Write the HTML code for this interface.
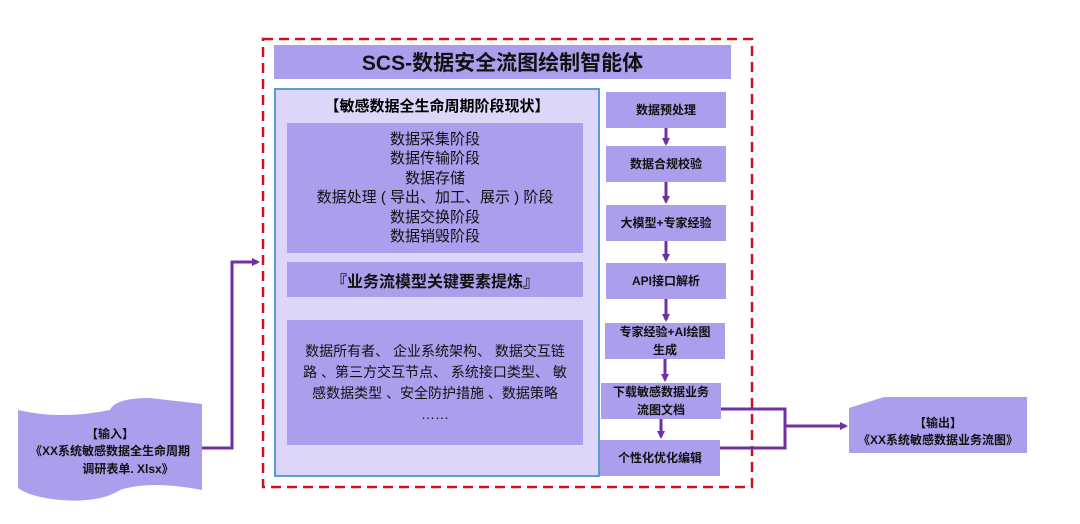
<!DOCTYPE html>
<html><head><meta charset="utf-8"><style>
body{margin:0;width:1080px;height:524px;background:#fff;position:relative;overflow:hidden;font-family:"Liberation Sans","Noto Sans CJK SC",sans-serif;}
.a{position:absolute;box-sizing:border-box;}
.p{background:#ab9eec;display:flex;align-items:center;justify-content:center;text-align:center;color:#111;}
.b{font-weight:bold;}
.rc{font-size:12px;font-weight:bold;line-height:18px;}
</style></head><body>
<div class="a p b" style="left:274px;top:45px;width:457px;height:34px;font-size:21px;">SCS-数据安全流图绘制智能体</div>
<div class="a" style="left:274px;top:88px;width:326px;height:389px;border:2.5px solid #5b9bd5;background:#dcd6f8;"></div>
<div class="a b" style="left:276px;top:95px;width:322px;text-align:center;font-size:15px;">【敏感数据全生命周期阶段现状】</div>
<div class="a p" style="left:287px;top:123px;width:296px;height:130px;font-size:15px;line-height:19.5px;">数据采集阶段<br>数据传输阶段<br>数据存储<br>数据处理 ( 导出、加工、展示 ) 阶段<br>数据交换阶段<br>数据销毁阶段</div>
<div class="a p b" style="left:287px;top:262px;width:296px;height:35px;font-size:16px;">『业务流模型关键要素提炼』</div>
<div class="a p" style="left:287px;top:320px;width:296px;height:125px;font-size:14px;line-height:21px;white-space:nowrap;">数据所有者、 企业系统架构、 数据交互链<br>路 、第三方交互节点、 系统接口类型、 敏<br>感数据类型 、安全防护措施 、数据策略<br>……</div>

<div class="a p rc" style="left:606px;top:92px;width:120px;height:36px;">数据预处理</div>
<div class="a p rc" style="left:606px;top:146px;width:120px;height:36px;">数据合规校验</div>
<div class="a p rc" style="left:606px;top:205px;width:120px;height:36px;">大模型+专家经验</div>
<div class="a p rc" style="left:606px;top:263px;width:120px;height:36px;">API接口解析</div>
<div class="a p rc" style="left:605px;top:323px;width:120px;height:36px;">专家经验+AI绘图<br>生成</div>
<div class="a p rc" style="left:601px;top:383px;width:120px;height:36px;">下载敏感数据业务<br>流图文档</div>
<div class="a p rc" style="left:600px;top:440px;width:120px;height:36px;">个性化优化编辑</div>

<svg class="a" style="left:0;top:0" width="1080" height="524">
<defs><marker id="m" markerWidth="8" markerHeight="8" refX="6" refY="4" orient="auto" markerUnits="userSpaceOnUse"><path d="M0,0 L8,4 L0,8z" fill="#7030a0"/></marker></defs>
<rect x="263" y="39" width="489" height="448" fill="none" stroke="#d0101a" stroke-width="2.5" stroke-dasharray="10,6"/>
<g stroke="#7030a0" stroke-width="3" fill="none">
<line x1="666" y1="128" x2="666" y2="144" marker-end="url(#m)"/>
<line x1="666" y1="182" x2="666" y2="202" marker-end="url(#m)"/>
<line x1="666" y1="241" x2="666" y2="260" marker-end="url(#m)"/>
<line x1="666" y1="299" x2="666" y2="320" marker-end="url(#m)"/>
<line x1="665" y1="359" x2="665" y2="380" marker-end="url(#m)"/>
<line x1="661" y1="419" x2="661" y2="437" marker-end="url(#m)"/>
<polyline points="202,448 232,448 232,262 258,262" marker-end="url(#m)"/>
<polyline points="721,409 785,409 785,448 720,448"/>
<line x1="785" y1="426" x2="846" y2="426" marker-end="url(#m)"/>
</g>
<path d="M18,410 Q60,420 110,410 Q115,398 150,398 L202,404 L202,490 Q150,480 120,490 Q100,503 60,500 Q30,497 18,488 Z" fill="#ab9eec"/>
<path d="M849,408 L884,397 L1027,397 L1027,453 L849,453 Z" fill="#ab9eec"/>
<text x="110" y="438" text-anchor="middle" font-size="12" font-weight="bold" fill="#111">【输入】</text>
<text x="110" y="455" text-anchor="middle" font-size="12" font-weight="bold" fill="#111">《XX系统敏感数据全生命周期</text>
<text x="128" y="473" text-anchor="middle" font-size="12" font-weight="bold" fill="#111">调研表单. Xlsx》</text>
<text x="938" y="427" text-anchor="middle" font-size="12" font-weight="bold" fill="#111">【输出】</text>
<text x="938" y="444" text-anchor="middle" font-size="12" font-weight="bold" fill="#111">《XX系统敏感数据业务流图》</text>
</svg>
</body></html>
